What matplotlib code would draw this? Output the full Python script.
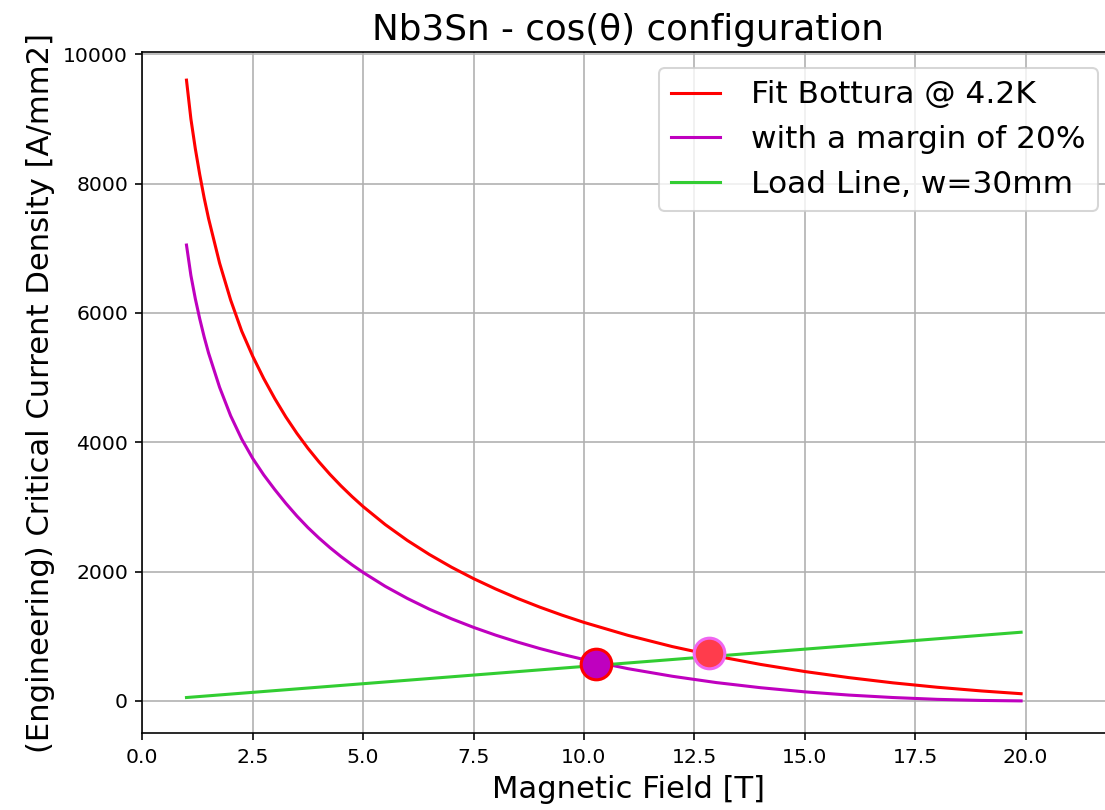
import matplotlib
matplotlib.use("Agg")
import matplotlib.pyplot as plt

# Critical current density of Nb3Sn vs field [T] -> [A/mm2]
B_fit = [1.0, 1.1, 1.2, 1.3, 1.4, 1.5, 1.75, 2.0, 2.25, 2.5, 2.75, 3.0, 3.25, 3.5,
         3.75, 4.0, 4.25, 4.5, 4.75, 5.0, 5.5, 6.0, 6.5, 7.0, 7.5, 8.0, 8.5, 9.0,
         9.5, 10.0, 11.0, 12.0, 13.0, 14.0, 15.0, 16.0, 17.0, 18.0, 19.0, 19.9]
J_fit = [9600, 9000, 8540, 8140, 7780, 7460, 6770, 6200, 5720, 5330, 4985, 4675, 4392,
         4138, 3907, 3697, 3503, 3325, 3160, 3006, 2728, 2483, 2265, 2069, 1892, 1732,
         1585, 1451, 1328, 1215, 1014, 841, 693, 565, 455, 361, 280, 212, 155, 112]

# same conductor with a 20% margin
B_margin = B_fit
J_margin = [7050, 6580, 6220, 5910, 5630, 5380, 4850, 4410, 4050, 3750, 3495, 3268, 3056,
            2860, 2681, 2519, 2370, 2232, 2105, 1987, 1773, 1586, 1419, 1271, 1138, 1018,
            910, 811, 722, 641, 499, 382, 284, 205, 141, 91, 53, 25, 8, 1]

# load line of the cos(theta) coil, w = 30 mm
B_load = [1.0, 19.9]
J_load = [53, 1063]

# operating points
B_op_margin, J_op_margin = 10.27, 565
B_op_fit, J_op_fit = 12.83, 745

fig = plt.figure(figsize=(1105 / 147, 810 / 147), dpi=147)
ax = fig.add_axes([0.1288, 0.0947, 0.8792, 0.8407])

ax.plot(B_fit, J_fit, color='red', label='Fit Bottura @ 4.2K')
ax.plot(B_margin, J_margin, color='m', label='with a margin of 20%')
ax.plot(B_load, J_load, color='limegreen', label='Load Line, w=30mm')

ax.plot(B_op_margin, J_op_margin, 'o', ms=15, mfc='m', mec='red', mew=1.5)
ax.plot(B_op_fit, J_op_fit, 'o', ms=15, mfc='#ff3c4c', mec='#f065f0', mew=1.5)

ax.set_xlim(0, 22)
ax.set_ylim(-500, 10030)
ax.set_xticks([0, 2.5, 5, 7.5, 10, 12.5, 15, 17.5, 20])
ax.grid(True)

ax.set_title('Nb3Sn - cos(\u03b8) configuration', fontsize=17.5)
ax.set_xlabel('Magnetic Field [T]', fontsize=15)
ax.set_ylabel('(Engineering) Critical Current Density [A/mm2]', fontsize=15)
ax.legend(loc='upper right', fontsize=15.3, handlelength=1.55, handletextpad=1.0)

fig.savefig('out.png', dpi=147)
